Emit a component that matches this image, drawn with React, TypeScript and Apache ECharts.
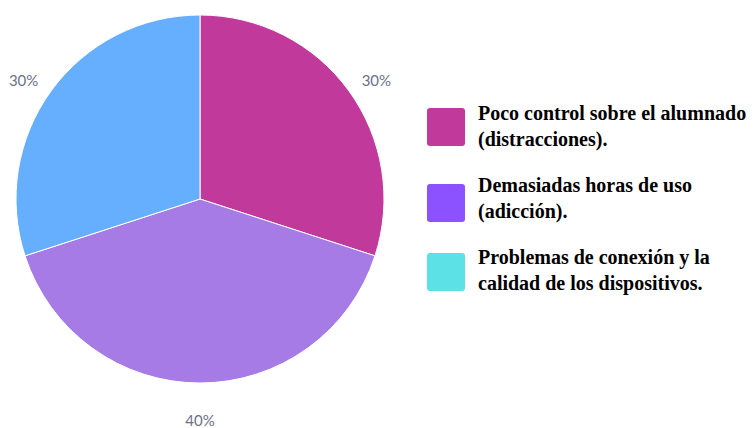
import React, { useEffect, useRef } from "react";
import * as echarts from "echarts";

const categories = [
  "Poco control sobre el alumnado (distracciones).",
  "Demasiadas horas de uso (adicción).",
  "Otros",
];
const values = [30, 40, 30];
const sliceColors = ["#C1399A", "#A67BE5", "#66AFFF"];

const legendLines = [
  ["Poco control sobre el alumnado", "(distracciones)."],
  ["Demasiadas horas de uso", "(adicción)."],
  ["Problemas de conexión y la", "calidad de los dispositivos."],
];
const legendColors = ["#C1399A", "#8C52FF", "#5CE1E6"];

export default function App() {
  const ref = useRef<HTMLDivElement>(null);
  useEffect(() => {
    if (!ref.current) return;
    document.body.style.margin = "0";
    const chart = echarts.init(ref.current, undefined, { renderer: "svg" });
    const data = values.map((v, i) => ({
      name: categories[i],
      value: v,
      itemStyle: { color: sliceColors[i] },
    }));
    const graphic: any[] = [];
    const rectTops = [108, 184, 253];
    const textTops = [100, 172, 244];
    legendLines.forEach((lines, i) => {
      graphic.push({
        type: "rect",
        left: 427,
        top: rectTops[i],
        shape: { width: 38, height: 38, r: 3 },
        style: { fill: legendColors[i] },
      });
      graphic.push({
        type: "text",
        left: 478,
        top: textTops[i],
        style: {
          text: lines.join("\n"),
          font: "bold 20px 'Liberation Serif', 'Times New Roman', serif",
          lineHeight: 26,
          fill: "#000000",
        },
      });
    });
    const labelOffsets = [[0, 9], [0, 3], [0, 9]];
    chart.setOption({
      animation: false,
      backgroundColor: "#ffffff",
      graphic,
      series: [
        {
          type: "pie",
          center: [200, 199],
          radius: 184,
          startAngle: 90,
          clockwise: true,
          silent: true,
          data,
          itemStyle: { borderColor: "#ffffff", borderWidth: 1 },
          label: { show: false },
          labelLine: { show: false },
        },
        {
          type: "pie",
          center: [200, 199],
          radius: [200, 230],
          startAngle: 90,
          clockwise: true,
          silent: true,
          data: values.map((v, i) => ({
            name: categories[i],
            value: v,
            itemStyle: { color: "transparent" },
            label: { offset: labelOffsets[i] },
          })),
          label: {
            show: true,
            position: "inside",
            formatter: (p: any) => `${p.value}%`,
            color: "#6E7087",
            fontSize: 15,
            lineHeight: 12,
            fontFamily: "Lato, 'Noto Sans', sans-serif",
          },
          labelLine: { show: false },
        },
      ],
    });
    return () => chart.dispose();
  }, []);
  return <div ref={ref} style={{ width: 755, height: 428 }} />;
}
